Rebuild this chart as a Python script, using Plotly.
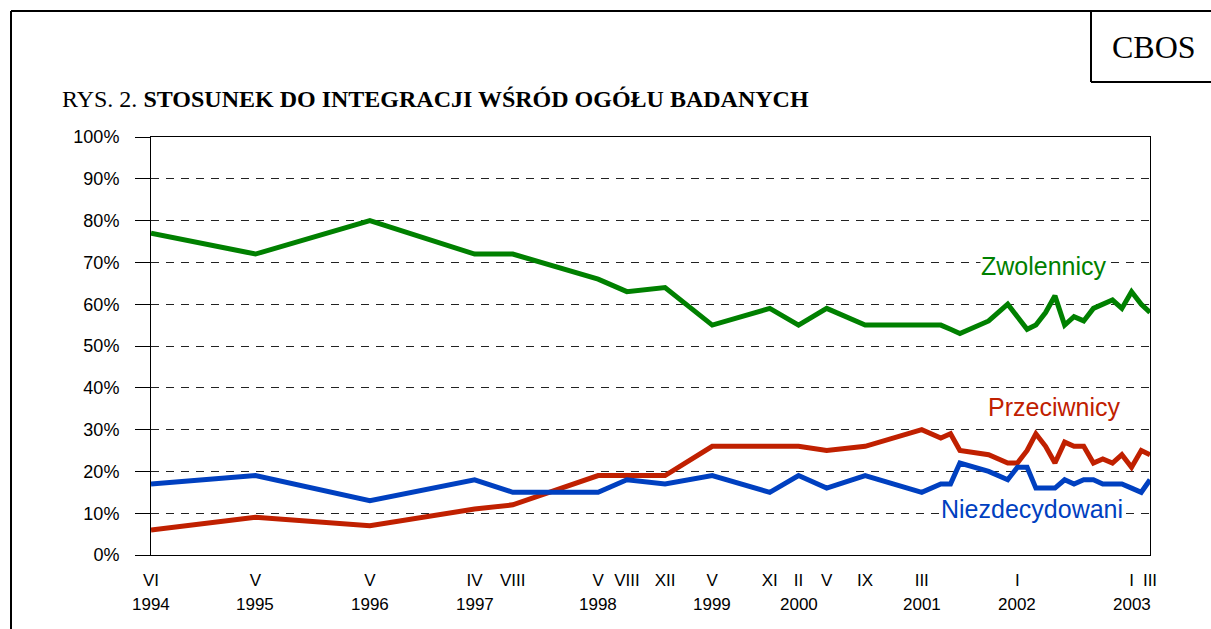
import plotly.graph_objects as go

# ---- data ----
dates = ["1994-06", "1995-05", "1996-05", "1997-04", "1997-08", "1998-05", "1998-08",
         "1998-12", "1999-05", "1999-11", "2000-02", "2000-05", "2000-09", "2001-03",
         "2001-05", "2001-06", "2001-07", "2001-10", "2001-12", "2002-01", "2002-02",
         "2002-03", "2002-04", "2002-05", "2002-06", "2002-07", "2002-08", "2002-09",
         "2002-10", "2002-11", "2002-12", "2003-01", "2003-02", "2003-03"]
zwolennicy = [77, 72, 80, 72, 72, 66, 63, 64, 55, 59, 55, 59, 55, 55,
              55, 54, 53, 56, 60, 57, 54, 55, 58, 62, 55, 57, 56, 59,
              60, 61, 59, 63, 60, 58]
przeciwnicy = [6, 9, 7, 11, 12, 19, 19, 19, 26, 26, 26, 25, 26, 30,
               28, 29, 25, 24, 22, 22, 25, 29, 26, 22, 27, 26, 26, 22,
               23, 22, 24, 21, 25, 24]
niezdecydowani = [17, 19, 13, 18, 15, 15, 18, 17, 19, 15, 19, 16, 19, 15,
                  17, 17, 22, 20, 18, 21, 21, 16, 16, 16, 18, 17, 18, 18,
                  17, 17, 17, 16, 15, 18]

tick_dates = ["1994-06", "1995-05", "1996-05", "1997-04", "1997-08", "1998-05", "1998-08",
              "1998-12", "1999-05", "1999-11", "2000-02", "2000-05", "2000-09", "2001-03",
              "2002-01", "2003-01", "2003-03"]
tick_months = ["VI", "V", "V", "IV", "VIII", "V", "VIII", "XII", "V", "XI", "II", "V",
               "IX", "III", "I", "I", "III"]
year_labels = ["1994", "1995", "1996", "1997", "1998", "1999", "2000", "2001", "2002", "2003"]
year_at = ["1994-06", "1995-05", "1996-05", "1997-04", "1998-05", "1999-05", "2000-02",
           "2001-03", "2002-01", "2003-01"]

y_ticks = [0, 10, 20, 30, 40, 50, 60, 70, 80, 90, 100]

GREEN = "#008000"
RED = "#C02000"
BLUE = "#0040C0"
SANS = "Liberation Sans, Arial, sans-serif"
SERIF = "Liberation Serif, Times New Roman, serif"

W, H = 1211, 629
L, R, T, B = 151, 61, 137, 74
PW, PH = W - L - R, H - T - B


def px(x):
    return (x - L) / PW


def py(y):
    return (H - B - y) / PH


fig = go.Figure()
for name, vals, col in [("Zwolennicy", zwolennicy, GREEN),
                        ("Przeciwnicy", przeciwnicy, RED),
                        ("Niezdecydowani", niezdecydowani, BLUE)]:
    fig.add_trace(go.Scatter(x=dates, y=vals, mode="lines", name=name,
                             line=dict(color=col, width=5), showlegend=False))

annotations = []
for yl, ya in zip(year_labels, year_at):
    annotations.append(dict(x=ya + "-01", y=0, xref="x", yref="paper", text=yl,
                            showarrow=False, yanchor="top", yshift=-38,
                            font=dict(family=SANS, size=17, color="black")))

# series labels (white background interrupts the dashed grid, as in the original)
annotations += [
    dict(x=px(980), y=py(266), xref="paper", yref="paper", text="Zwolennicy",
         showarrow=False, xanchor="left", yanchor="middle", bgcolor="white", borderpad=0,
         font=dict(family=SANS, size=25, color=GREEN)),
    dict(x=px(987), y=py(407), xref="paper", yref="paper", text="Przeciwnicy",
         showarrow=False, xanchor="left", yanchor="middle", bgcolor="white", borderpad=0,
         font=dict(family=SANS, size=25, color=RED)),
    dict(x=px(940), y=py(509), xref="paper", yref="paper", text="Niezdecydowani",
         showarrow=False, xanchor="left", yanchor="middle", bgcolor="white", borderpad=0,
         font=dict(family=SANS, size=25, color=BLUE)),
    dict(x=px(60), y=py(99), xref="paper", yref="paper",
         text="RYS. 2. <b>STOSUNEK DO INTEGRACJI WŚRÓD OGÓŁU BADANYCH</b>",
         showarrow=False, xanchor="left", yanchor="middle",
         font=dict(family=SERIF, size=24, color="black")),
    dict(x=px(1154), y=py(47), xref="paper", yref="paper", text="CBOS",
         showarrow=False, xanchor="center", yanchor="middle",
         font=dict(family=SERIF, size=32, color="black")),
]

shapes = [
    dict(type="line", xref="paper", yref="paper", x0=px(11), x1=px(1215), y0=py(11), y1=py(11),
         line=dict(color="black", width=2)),
    dict(type="line", xref="paper", yref="paper", x0=px(11), x1=px(11), y0=py(11), y1=py(640),
         line=dict(color="black", width=2)),
    dict(type="line", xref="paper", yref="paper", x0=px(1091), x1=px(1091), y0=py(11), y1=py(82),
         line=dict(color="black", width=2)),
    dict(type="line", xref="paper", yref="paper", x0=px(1091), x1=px(1215), y0=py(82), y1=py(82),
         line=dict(color="black", width=2)),
]

fig.update_layout(
    width=W, height=H,
    margin=dict(l=L, r=R, t=T, b=B, pad=0),
    paper_bgcolor="white", plot_bgcolor="white",
    font=dict(family=SANS, color="black"),
    annotations=annotations, shapes=shapes,
    xaxis=dict(type="date", range=["1994-06-01", "2003-03-01"],
               tickmode="array", tickvals=[d + "-01" for d in tick_dates], ticktext=tick_months,
               tickangle=0, ticks="", showgrid=False, zeroline=False,
               showline=True, mirror=True, linecolor="black", linewidth=1,
               tickfont=dict(family=SANS, size=17, color="black"), ticklabelstandoff=10),
    yaxis=dict(range=[0, 100], tickmode="array", tickvals=y_ticks,
               ticktext=[f"{v}%" for v in y_ticks],
               ticks="outside", ticklen=15, tickcolor="black", tickwidth=1,
               showgrid=True, gridcolor="#222222", gridwidth=1, griddash="8px,7px",
               zeroline=False, showline=True, mirror=True, linecolor="black", linewidth=1,
               tickfont=dict(family=SANS, size=18, color="black"), ticklabelstandoff=12),
)

fig.write_html("out.html", config={"displayModeBar": False},
               post_script="document.body.style.margin='0px';document.body.style.padding='0px';"
                           "document.body.style.overflow='hidden';")
